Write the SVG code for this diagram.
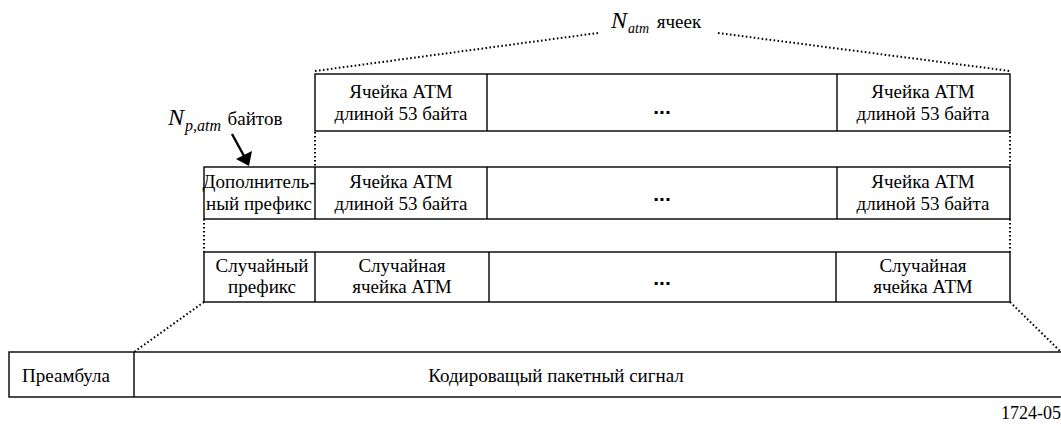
<svg xmlns="http://www.w3.org/2000/svg" width="1061" height="425" viewBox="0 0 1061 425" font-family="Liberation Serif, serif">
<style>
.box{fill:#fff;stroke:#000;stroke-width:1.4}
.t{font-family:'Liberation Serif',serif;font-size:19px;fill:#000;text-anchor:middle}
.dots{font-family:'Liberation Sans',sans-serif;font-size:21px;font-weight:bold;fill:#000;text-anchor:middle}
.dot{fill:none;stroke:#000;stroke-width:2;stroke-dasharray:1.6 2.4}
.it{font-family:'Liberation Serif',serif;font-style:italic;fill:#000}
</style>
<g id="connectors">
<line class="dot" x1="315" y1="71" x2="598" y2="33"/>
<line class="dot" x1="718" y1="33" x2="1010" y2="71"/>
<line class="dot" x1="315" y1="132" x2="315" y2="167"/>
<line class="dot" x1="1010" y1="132" x2="1010" y2="167"/>
<line class="dot" x1="204" y1="219" x2="204" y2="252"/>
<line class="dot" x1="1010" y1="219" x2="1010" y2="252"/>
<line class="dot" x1="204" y1="302" x2="134" y2="352"/>
<line class="dot" x1="1010" y1="302" x2="1061" y2="352"/>
<line x1="232" y1="134" x2="244" y2="156" stroke="#000" stroke-width="2.4"/>
<path d="M236,159 L252,151 L249,166 z" fill="#000"/>
</g>
<g id="label-natm">
<text class="it" x="611" y="28" font-size="24">N</text>
<text class="it" x="628" y="33" font-size="14">atm</text>
<text class="t" x="679" y="28">ячеек</text>
</g>
<g id="label-npatm">
<text class="it" x="168" y="125" font-size="24">N</text>
<text class="it" x="185" y="131" font-size="16">p,atm</text>
<text class="t" x="255" y="125">байтов</text>
</g>
<g id="row1">
<rect class="box" x="315" y="74" width="695" height="57"/>
<line class="box" x1="487" y1="74" x2="487" y2="131"/>
<line class="box" x1="837" y1="74" x2="837" y2="131"/>
<text class="t" x="401" y="98">Ячейка АТМ</text>
<text class="t" x="401" y="120">длиной 53 байта</text>
<text class="dots" x="662" y="114">...</text>
<text class="t" x="923" y="98">Ячейка АТМ</text>
<text class="t" x="923" y="120">длиной 53 байта</text>
</g>
<g id="row2">
<rect class="box" x="204" y="167" width="806" height="52"/>
<line class="box" x1="315" y1="167" x2="315" y2="219"/>
<line class="box" x1="487" y1="167" x2="487" y2="219"/>
<line class="box" x1="837" y1="167" x2="837" y2="219"/>
<text class="t" x="259" y="188">Дополнитель-</text>
<text class="t" x="259" y="210">ный префикс</text>
<text class="t" x="401" y="188">Ячейка АТМ</text>
<text class="t" x="401" y="210">длиной 53 байта</text>
<text class="dots" x="662" y="201">...</text>
<text class="t" x="923" y="188">Ячейка АТМ</text>
<text class="t" x="923" y="210">длиной 53 байта</text>
</g>
<g id="row3">
<rect class="box" x="204" y="252" width="806" height="50"/>
<line class="box" x1="315" y1="252" x2="315" y2="302"/>
<line class="box" x1="489" y1="252" x2="489" y2="302"/>
<line class="box" x1="836" y1="252" x2="836" y2="302"/>
<text class="t" x="262" y="272">Случайный</text>
<text class="t" x="262" y="293">префикс</text>
<text class="t" x="402" y="272">Случайная</text>
<text class="t" x="402" y="293">ячейка АТМ</text>
<text class="dots" x="662" y="285">...</text>
<text class="t" x="923" y="272">Случайная</text>
<text class="t" x="923" y="293">ячейка АТМ</text>
</g>
<g id="burst">
<rect class="box" x="9" y="352" width="1060" height="45"/>
<line class="box" x1="134" y1="352" x2="134" y2="397"/>
<text class="t" x="66" y="382">Преамбула</text>
<text class="t" x="556" y="382">Кодироващый пакетный сигнал</text>
</g>
<text x="1001" y="419" font-family="Liberation Serif, serif" font-size="18">1724-05</text>
</svg>
